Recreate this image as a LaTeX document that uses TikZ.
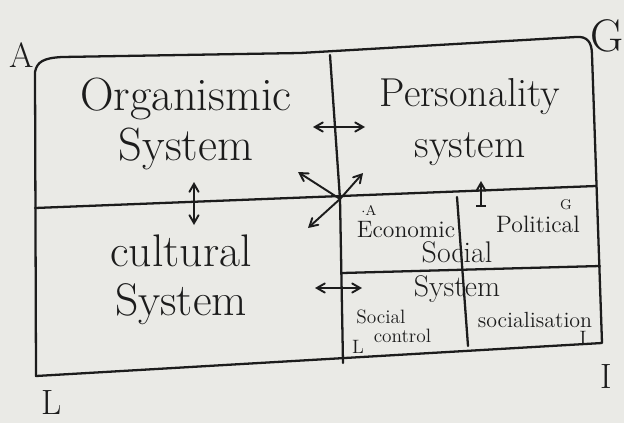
\documentclass[tikz,border=0pt]{standalone}
\usepackage{amsmath}
\usepackage{xcolor}
\usepackage{tikz}
\usetikzlibrary{arrows}
\definecolor{paper}{RGB}{234,234,230}
\definecolor{ink}{RGB}{28,28,28}
\tikzset{
	sys node/.style={font=\fontsize{25}{28}\selectfont,text=ink,align=center,inner sep=0pt},
	sub node/.style={font=\fontsize{13.5}{15}\selectfont,text=ink,inner sep=0pt},
	small node/.style={font=\fontsize{11}{13}\selectfont,text=ink,inner sep=0pt},
	tiny node/.style={font=\fontsize{8}{9}\selectfont,text=ink,inner sep=0pt},
	corner label/.style={font=\fontsize{20}{22}\selectfont,text=ink,inner sep=0pt},
	ink line/.style={draw=ink,line width=1.3pt,line cap=round,line join=round},
	link/.style={draw=ink,line width=1.1pt,<->}
}
\begin{document}
\begin{tikzpicture}[x=0.02cm,y=-0.02cm,>=angle 60]
	\fill[paper] (0,0) rectangle (624,423);
	\useasboundingbox (0,0) rectangle (624,423);
	% outer frame
	\coordinate (tl) at (35,72);
	\coordinate (tr) at (592,55);
	\coordinate (br) at (602,343);
	\coordinate (bl) at (36,376);
	\draw[ink line] (bl) -- (tl) .. controls (37,62) and (43,58) .. (62,57) -- (300,53)
		-- (576,37) .. controls (587,36) and (592,42) .. (tr) -- (br) -- cycle;
	% quadrants
	\coordinate (ml) at (35,208);
	\coordinate (mr) at (596,186);
	\coordinate (mt) at (330,55);
	\coordinate (mc) at (340,199);
	\coordinate (mb) at (343,363);
	\draw[ink line] (ml) -- (mr);
	\draw[ink line] (mt) -- (mc) -- (mb);
	% social system split
	\coordinate (sl) at (342,273);
	\coordinate (sr) at (600,266);
	\coordinate (st) at (457,197);
	\coordinate (sb) at (468,346);
	\draw[ink line] (sl) -- (sr);
	\draw[ink line] (st) -- (sb);

	\node[sys node,font=\fontsize{26.5}{28}\selectfont] (org) at (186,124) {Organismic\\System};
	\node[sys node,font=\fontsize{23}{29}\selectfont] (pers) at (470,122) {Personality\\system};
	\node[sys node,font=\fontsize{26}{28}\selectfont] (cult) at (181,280) {cultural\\System};

	\node[sub node] (eco) at (406,230) {Economic};
	\node[sub node] (pol) at (538,224) {Political};
	\node[sys node,font=\fontsize{17}{19}\selectfont] (soc) at (457,272) {Social\\System};
	\node[small node,align=left,anchor=west] (ctrl) at (356,326) {Social\\[-2pt]\hspace{0.9em}control};
	\node[sub node,font=\fontsize{12.5}{14}\selectfont] (sosn) at (535,320) {socialisation};

	\node[tiny node] (sA) at (369,210) {$\cdot$A};
	\node[tiny node] (sG) at (566,205) {G};
	\node[small node] (sL) at (358,347) {L};
	\node[small node] (sI) at (583,338) {I};

	\node[corner label] (A) at (22,55) {A};
	\node[corner label,font=\fontsize{26}{28}\selectfont] (G) at (607,36) {G};
	\node[corner label] (L) at (52,402) {L};
	\node[corner label] (I) at (606,376) {I};

	% links between the systems
	\coordinate (ou) at (194,182);
	\coordinate (od) at (194,225);
	\coordinate (pl) at (313,127);
	\coordinate (pr) at (365,127);
	\coordinate (cl) at (315,288);
	\coordinate (cr) at (362,288);
	\coordinate (nw) at (298,172);
	\coordinate (ne) at (363,173);
	\coordinate (sw) at (308,228);
	\draw[link] (ou) -- (od);
	\draw[link] (pl) -- (pr);
	\draw[link] (cl) -- (cr);
	\draw[draw=ink,line width=1.1pt,->] (mc) -- (nw);
	\draw[draw=ink,line width=1.1pt,->] (mc) -- (ne);
	\draw[draw=ink,line width=1.1pt,->] (mc) -- (sw);
	\coordinate (iu) at (481,181);
	\coordinate (id) at (481,206);
	\coordinate (ibl) at (476,206);
	\coordinate (ibr) at (486,206);
	\draw[draw=ink,line width=1.1pt,->] (id) -- (iu);
	\draw[draw=ink,line width=1.1pt] (ibl) -- (ibr);
\end{tikzpicture}
\end{document}
